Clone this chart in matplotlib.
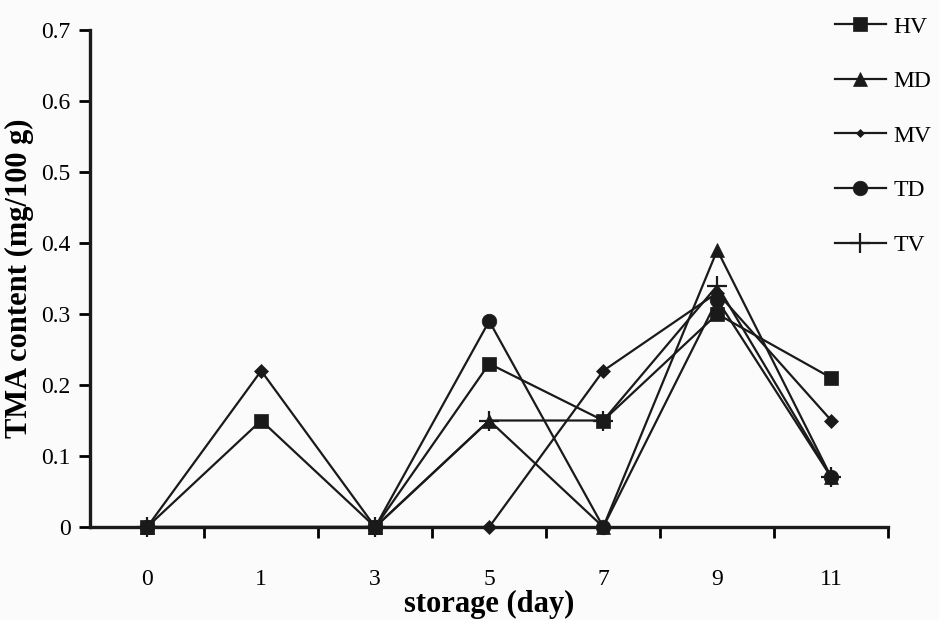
import numpy as np
import matplotlib
matplotlib.use('Agg')
import matplotlib.pyplot as plt

plt.rcParams['font.family'] = ['Liberation Serif', 'DejaVu Serif']

dias = ['0', '1', '3', '5', '7', '9', '11']
nan = np.nan
hv = [0, 0.15, 0, 0.23, 0.15, 0.30, 0.21]
md = [0, nan, 0, 0.15, 0, 0.39, 0.07]
mv = [0, 0.22, 0, 0, 0.22, 0.33, 0.15]
td = [0, nan, 0, 0.29, 0, 0.32, 0.07]
tv = [0, nan, 0, 0.15, 0.15, 0.34, 0.07]

series = [
    ('HV', hv, 's', 10),
    ('MD', md, '^', 10),
    ('MV', mv, 'D', 7),
    ('TD', td, 'o', 10.5),
    ('TV', tv, '+', 14),
]

fig = plt.figure(figsize=(9.39, 6.2), dpi=100)
fig.patch.set_facecolor('#fbfbfb')
ax = fig.add_axes([0.096, 0.15, 0.85, 0.8016])
ax.set_facecolor('#fbfbfb')

x = np.arange(len(dias))
for nome, vals, mk, ms in series:
    v = np.array(vals, dtype=float)
    ok = ~np.isnan(v)
    ax.plot(x[ok], v[ok], color='#1a1a1a', linewidth=1.6, marker=mk,
            markersize=ms, markeredgewidth=1.6 if mk == '+' else 0.5,
            label=nome, clip_on=False, zorder=3)

ax.set_xlim(-0.5, 6.5)
ax.set_ylim(0, 0.7)
ax.set_yticks(np.arange(0, 0.71, 0.1))
ax.set_yticklabels(['0'] + [f'{t:.1f}' for t in np.arange(0.1, 0.71, 0.1)])
ax.set_xticks(x)
ax.set_xticklabels(dias)
ax.set_xticks(np.arange(0.5, 6.6, 1), minor=True)
ax.tick_params(axis='x', which='major', length=0, pad=30, labelsize=17)
ax.tick_params(axis='x', which='minor', length=8, width=2, direction='out')
ax.tick_params(axis='y', length=8, width=2, direction='out', labelsize=17, pad=6)

for lado in ['top', 'right']:
    ax.spines[lado].set_visible(False)
for lado in ['left', 'bottom']:
    ax.spines[lado].set_linewidth(2.4)
    ax.spines[lado].set_color('#1a1a1a')

ax.set_xlabel('storage (day)', fontsize=22, fontweight='bold', labelpad=0)
ax.set_ylabel('TMA content (mg/100 g)', fontsize=22, fontweight='bold', labelpad=5)

leg = fig.legend(loc='upper right', bbox_to_anchor=(1.007, 0.997), frameon=False,
                 fontsize=17, handlelength=2.2, labelspacing=1.4,
                 handletextpad=0.3, borderaxespad=0.2)
leg.legend_handles[2].set_markersize(4)

plt.savefig('out.png', dpi=100, facecolor=fig.get_facecolor())
plt.close()
